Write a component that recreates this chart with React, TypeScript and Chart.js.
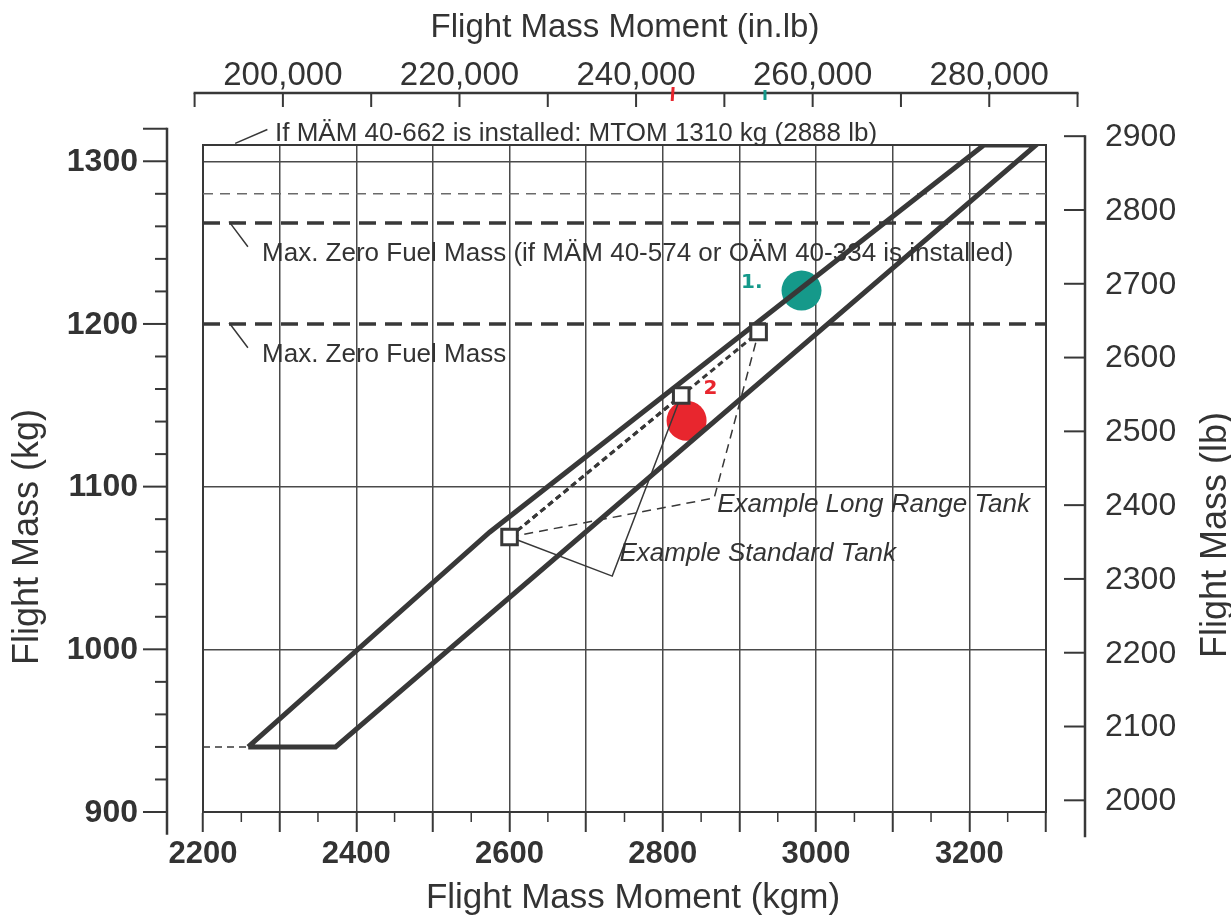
import React, { useEffect, useRef } from "react";
import { Chart, registerables } from "chart.js";

Chart.register(...registerables);

const FONT = "'Liberation Sans', Arial, Helvetica, sans-serif";
const INK = "#333333";
const LINE = "#383838";
const GRID = "#4a4a4a";
const RED = "#e8262e";
const TEAL = "#15998a";

// unit conversions
const KG_PER_LB = 0.45359237;
const INLB_PER_KGM = 86.79616;

// ---- axis ranges / ticks ----
const momentRange = [2200, 3300];
const massRange = [900, 1310];
const momentGrid = [2200, 2300, 2400, 2500, 2600, 2700, 2800, 2900, 3000, 3100, 3200, 3300];
const momentMinorTicks = [2250, 2350, 2450, 2550, 2650, 2750, 2850, 2950, 3050, 3150, 3250];
const momentLabels = [2200, 2400, 2600, 2800, 3000, 3200];

const massGrid = [900, 1000, 1100, 1300];
const massTicks = [900, 920, 940, 960, 980, 1000, 1020, 1040, 1060, 1080, 1100, 1120, 1140, 1160, 1180, 1200, 1220, 1240, 1260, 1280, 1300, 1320];
const massLabels = [900, 1000, 1100, 1200, 1300];
const massAxisEnds = [886, 1320];

const lbTicks = [2000, 2100, 2200, 2300, 2400, 2500, 2600, 2700, 2800, 2900];
const lbAxisEnds = [1950, 2900];

const inlbTicks = [190000, 200000, 210000, 220000, 230000, 240000, 250000, 260000, 270000, 280000, 290000];
const inlbLabels = [200000, 220000, 240000, 260000, 280000];
const inlbPenMarks = [244200, 254600];

// ---- envelope and reference lines ----
const envelopeMoment = [2259, 2373, 3287, 3219, 2574, 2259];
const envelopeMass = [940, 940, 1310, 1310, 1072, 940];
const minMassExtMoment = [2200, 2259];
const minMassExtMass = [940, 940];
const mtomStandardMass = 1280;
const mzfmOptionMass = 1262;
const mzfmMass = 1200;

// ---- examples ----
const exampleMoment = [2600, 2824, 2925];
const exampleMass = [1069, 1156, 1195];
const longRangeLeaderMoment = [2600, 2867, 2925];
const longRangeLeaderMass = [1069, 1093, 1195];
const standardLeaderMoment = [2600, 2734, 2824];
const standardLeaderMass = [1069, 1045, 1156];
const penMarkMoment = [2831, 2981];
const penMarkMass = [1140.5, 1220.5];

// ---- note leaders ----
const mtomNoteLeaderMoment = [2242, 2284];
const mtomNoteLeaderMass = [1311, 1319.5];
const zfmOptionLeaderMoment = [2248, 2235, 2258.6];
const zfmOptionLeaderMass = [1262.3, 1262.3, 1247.5];
const zfmLeaderMoment = [2248, 2235, 2258.6];
const zfmLeaderMass = [1200.2, 1200.2, 1185.4];

const notes = [
  { text: "If MÄM 40-662 is installed: MTOM 1310 kg (2888 lb)", x: 2294, y: 1312.7, italic: false },
  { text: "Max. Zero Fuel Mass (if MÄM 40-574 or OÄM 40-334 is installed)", x: 2277, y: 1238.9, italic: false },
  { text: "Max. Zero Fuel Mass", x: 2277, y: 1176.8, italic: false },
  { text: "Example Long Range Tank", x: 2871, y: 1084.5, italic: true },
  { text: "Example Standard Tank", x: 2743.5, y: 1054.4, italic: true },
];
const penNotes = [
  { text: "1.", x: 2902, y: 1225, color: TEAL },
  { text: "2", x: 2853, y: 1160, color: RED },
];

const pts = (xs: number[], ys: number[]) => xs.map((x, i) => ({ x, y: ys[i] }));
const hline = (m: number) => pts(momentRange, [m, m]);

const lineDs = (data: any[], width: number, dash: number[] = [], color = LINE, extra: any = {}) => ({
  data,
  showLine: true,
  borderColor: color,
  borderWidth: width,
  borderDash: dash,
  pointRadius: 0,
  pointHoverRadius: 0,
  fill: false,
  tension: 0,
  ...extra,
});

const decorPlugin = {
  id: "decor",
  afterDraw(chart: any) {
    const { ctx, chartArea: ca } = chart;
    const { x, y, x2, y2 } = chart.scales;
    const seg = (a: number, b: number, c: number, d: number) => {
      ctx.beginPath();
      ctx.moveTo(a, b);
      ctx.lineTo(c, d);
      ctx.stroke();
    };
    ctx.save();
    ctx.strokeStyle = LINE;
    ctx.fillStyle = INK;

    // bottom minor ticks
    ctx.lineWidth = 1.5;
    for (const v of momentMinorTicks) {
      const px = x.getPixelForValue(v);
      seg(px, ca.bottom, px, ca.bottom + 10);
    }

    // left kg axis
    const lx = ca.left - 36;
    ctx.lineWidth = 2.5;
    seg(lx, y.getPixelForValue(massAxisEnds[1]) - 1, lx, y.getPixelForValue(massAxisEnds[0]));
    ctx.lineWidth = 2;
    for (const v of massTicks) {
      const py = y.getPixelForValue(v);
      const len = massLabels.includes(v) || v === massAxisEnds[1] ? 24 : 12;
      seg(lx - len, py, lx, py);
    }
    ctx.font = `bold 32px ${FONT}`;
    ctx.textAlign = "right";
    ctx.textBaseline = "middle";
    for (const v of massLabels) ctx.fillText(String(v), lx - 29, y.getPixelForValue(v) + 1);

    // right lb axis
    const rx = ca.right + 39;
    ctx.lineWidth = 2.5;
    seg(rx, y2.getPixelForValue(lbAxisEnds[1]) - 1, rx, y2.getPixelForValue(lbAxisEnds[0]));
    ctx.lineWidth = 2;
    for (const v of lbTicks) {
      const py = y2.getPixelForValue(v);
      seg(rx - 21, py, rx, py);
    }
    ctx.font = `32px ${FONT}`;
    ctx.textAlign = "left";
    for (const v of lbTicks) ctx.fillText(String(v), rx + 20, y2.getPixelForValue(v) + 1);

    // top in.lb axis
    const ty = ca.top - 52;
    ctx.lineWidth = 2.5;
    seg(x2.getPixelForValue(inlbTicks[0]) - 1, ty, x2.getPixelForValue(inlbTicks[inlbTicks.length - 1]) + 1, ty);
    ctx.lineWidth = 2;
    for (const v of inlbTicks) {
      const px = x2.getPixelForValue(v);
      seg(px, ty, px, ty + 14);
    }
    ctx.font = `33px ${FONT}`;
    ctx.textAlign = "center";
    ctx.textBaseline = "alphabetic";
    for (const v of inlbLabels) ctx.fillText(v.toLocaleString("en-US"), x2.getPixelForValue(v), ty - 8);
    ctx.lineWidth = 3;
    ctx.strokeStyle = RED;
    seg(x2.getPixelForValue(inlbPenMarks[0]), ty - 6, x2.getPixelForValue(inlbPenMarks[0]) - 1, ty + 8);
    ctx.strokeStyle = TEAL;
    seg(x2.getPixelForValue(inlbPenMarks[1]), ty - 3, x2.getPixelForValue(inlbPenMarks[1]), ty + 7);

    // axis titles
    ctx.fillStyle = INK;
    ctx.textAlign = "center";
    ctx.textBaseline = "alphabetic";
    ctx.font = `33px ${FONT}`;
    ctx.fillText("Flight Mass Moment (in.lb)", 625, 37);
    ctx.font = `35px ${FONT}`;
    ctx.fillText("Flight Mass Moment (kgm)", 633, 908);
    ctx.font = `36px ${FONT}`;
    ctx.save();
    ctx.translate(38, 537);
    ctx.rotate(-Math.PI / 2);
    ctx.fillText("Flight Mass (kg)", 0, 0);
    ctx.restore();
    ctx.save();
    ctx.translate(1226, 535);
    ctx.rotate(-Math.PI / 2);
    ctx.fillText("Flight Mass (lb)", 0, 0);
    ctx.restore();

    // notes
    ctx.textAlign = "left";
    for (const n of notes) {
      ctx.font = `${n.italic ? "italic " : ""}26px ${FONT}`;
      ctx.fillText(n.text, x.getPixelForValue(n.x), y.getPixelForValue(n.y));
    }
    ctx.textBaseline = "middle";
    for (const n of penNotes) {
      ctx.fillStyle = n.color;
      ctx.font = `bold 20px 'DejaVu Sans', sans-serif`;
      ctx.fillText(n.text, x.getPixelForValue(n.x), y.getPixelForValue(n.y));
    }
    ctx.restore();
  },
};

export default function App() {
  const ref = useRef<HTMLCanvasElement | null>(null);

  useEffect(() => {
    if (!ref.current) return;
    Chart.defaults.font.family = FONT;
    Chart.defaults.color = INK;

    const datasets: any[] = [
      {
        data: pts(exampleMoment, exampleMass),
        showLine: false,
        pointStyle: "rect",
        pointRadius: 11,
        pointHoverRadius: 11,
        pointBorderWidth: 3,
        pointBorderColor: LINE,
        pointBackgroundColor: "#ffffff",
      },
      lineDs(pts(envelopeMoment, envelopeMass), 5, [], LINE, { borderJoinStyle: "miter" }),
      lineDs(pts(exampleMoment.slice(0, 2), exampleMass.slice(0, 2)), 3, [6, 4]),
      lineDs(pts([exampleMoment[0], exampleMoment[2]], [exampleMass[0], exampleMass[2]]), 3, [6, 4]),
      lineDs(pts(longRangeLeaderMoment, longRangeLeaderMass), 1.5, [9, 6]),
      lineDs(pts(standardLeaderMoment, standardLeaderMass), 1.5),
      {
        data: pts(penMarkMoment, penMarkMass),
        showLine: false,
        pointStyle: "circle",
        pointRadius: 20,
        pointHoverRadius: 20,
        pointBorderWidth: 0,
        pointBackgroundColor: [RED, TEAL],
      },
      lineDs(hline(mtomStandardMass), 1.5, [10, 7], "#6a6a6a"),
      lineDs(hline(mzfmOptionMass), 3.5, [17, 9]),
      lineDs(hline(mzfmMass), 3.5, [17, 9]),
      lineDs(pts(minMassExtMoment, minMassExtMass), 1.5, [7, 5]),
      lineDs(pts(mtomNoteLeaderMoment, mtomNoteLeaderMass), 1.5, [], LINE, { clip: false }),
      lineDs(pts(zfmOptionLeaderMoment, zfmOptionLeaderMass), 1.5),
      lineDs(pts(zfmLeaderMoment, zfmLeaderMass), 1.5),
    ];

    const chart = new Chart(ref.current, {
      type: "scatter",
      data: { datasets },
      plugins: [decorPlugin],
      options: {
        animation: false,
        responsive: false,
        devicePixelRatio: 1,
        layout: { padding: 0 },
        plugins: { legend: { display: false }, tooltip: { enabled: false }, title: { display: false } },
        events: [],
        scales: {
          x: {
            type: "linear",
            position: "bottom",
            min: momentRange[0],
            max: momentRange[1],
            afterBuildTicks: (s: any) => {
              s.ticks = momentGrid.map((value) => ({ value }));
            },
            afterFit: (s: any) => {
              s.height = 107;
            },
            grid: { color: GRID, lineWidth: 1.5, tickLength: 20, tickColor: LINE, tickWidth: 2, drawTicks: true },
            border: { display: true, color: LINE, width: 2 },
            ticks: {
              autoSkip: false,
              maxRotation: 0,
              minRotation: 0,
              padding: 4,
              color: INK,
              font: { size: 31, weight: "bold" },
              callback: (v: any) => (momentLabels.includes(Number(v)) ? String(v) : ""),
            },
          },
          y: {
            type: "linear",
            position: "left",
            min: massRange[0],
            max: massRange[1],
            afterBuildTicks: (s: any) => {
              s.ticks = massGrid.map((value) => ({ value }));
            },
            afterFit: (s: any) => {
              s.width = 203;
            },
            grid: { color: GRID, lineWidth: 1.5, drawTicks: false },
            border: { display: true, color: LINE, width: 2 },
            ticks: { display: false },
          },
          x2: {
            type: "linear",
            position: "top",
            min: momentRange[0] * INLB_PER_KGM,
            max: momentRange[1] * INLB_PER_KGM,
            afterFit: (s: any) => {
              s.height = 145;
            },
            grid: { display: false, drawTicks: false },
            border: { display: true, color: LINE, width: 2 },
            ticks: { display: false },
          },
          y2: {
            type: "linear",
            position: "right",
            min: massRange[0] / KG_PER_LB,
            max: massRange[1] / KG_PER_LB,
            afterFit: (s: any) => {
              s.width = 185;
            },
            grid: { display: false, drawTicks: false },
            border: { display: true, color: LINE, width: 2 },
            ticks: { display: false },
          },
        },
      } as any,
    });
    return () => chart.destroy();
  }, []);

  return (
    <div style={{ position: "fixed", left: 0, top: 0, width: 1231, height: 919, background: "#ffffff" }}>
      <canvas ref={ref} width={1231} height={919} style={{ display: "block" }} />
    </div>
  );
}
